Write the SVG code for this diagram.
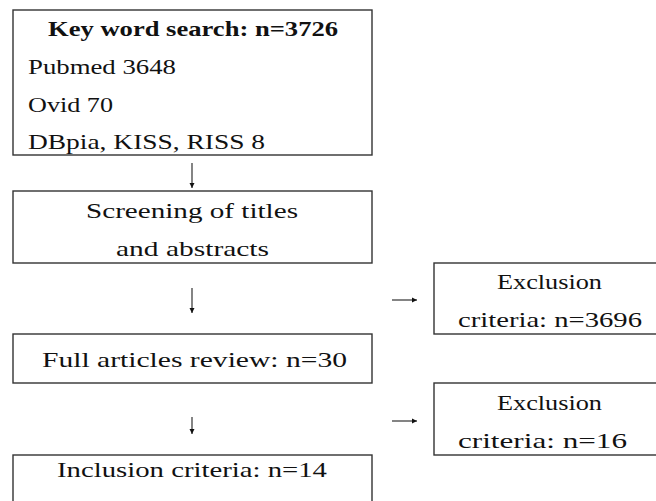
<svg xmlns="http://www.w3.org/2000/svg" width="656" height="501" viewBox="0 0 656 501">
<style>
.box{fill:#fff;stroke:#333;stroke-width:1.4}
.t{font-family:"Liberation Serif","DejaVu Serif",serif;font-size:22px;fill:#111}
.b{font-weight:bold}
.c{stroke:#333;stroke-width:1.2;fill:none;marker-end:url(#ah)}
</style>
<defs>
<marker id="ah" markerWidth="6" markerHeight="6" refX="5" refY="3" orient="auto" markerUnits="userSpaceOnUse">
<path d="M0,0.5 L5,3 L0,5.5 Z" fill="#111"/>
</marker>
</defs>
<rect width="656" height="501" fill="#fff"/>
<g id="n1">
<rect class="box" x="13" y="10" width="359" height="145"/>
<text class="t b" x="48" y="36" textLength="290" lengthAdjust="spacingAndGlyphs">Key word search: n=3726</text>
<text class="t" x="28" y="74" textLength="148" lengthAdjust="spacingAndGlyphs">Pubmed 3648</text>
<text class="t" x="28" y="112" textLength="85" lengthAdjust="spacingAndGlyphs">Ovid 70</text>
<text class="t" x="28" y="149" textLength="237" lengthAdjust="spacingAndGlyphs">DBpia, KISS, RISS 8</text>
</g>
<g id="n2">
<rect class="box" x="13" y="191" width="359" height="72"/>
<text class="t" x="86" y="218" textLength="212" lengthAdjust="spacingAndGlyphs">Screening of titles</text>
<text class="t" x="116" y="256" textLength="153" lengthAdjust="spacingAndGlyphs">and abstracts</text>
</g>
<g id="n3">
<rect class="box" x="434" y="263" width="240" height="71"/>
<text class="t" x="497" y="289" textLength="105" lengthAdjust="spacingAndGlyphs">Exclusion</text>
<text class="t" x="458" y="327" textLength="184" lengthAdjust="spacingAndGlyphs">criteria: n=3696</text>
</g>
<g id="n4">
<rect class="box" x="13" y="334" width="359" height="49"/>
<text class="t" x="42" y="367" textLength="305" lengthAdjust="spacingAndGlyphs">Full articles review: n=30</text>
</g>
<g id="n5">
<rect class="box" x="434" y="383" width="240" height="72"/>
<text class="t" x="497" y="410" textLength="105" lengthAdjust="spacingAndGlyphs">Exclusion</text>
<text class="t" x="458" y="448" textLength="169" lengthAdjust="spacingAndGlyphs">criteria: n=16</text>
</g>
<g id="n6">
<rect class="box" x="13" y="455" width="359" height="60"/>
<text class="t" x="57" y="477" textLength="270" lengthAdjust="spacingAndGlyphs">Inclusion criteria: n=14</text>
</g>
<g id="connectors">
<line class="c" x1="192" y1="163" x2="192" y2="188"/>
<line class="c" x1="192" y1="288" x2="192" y2="313"/>
<line class="c" x1="392" y1="300" x2="417" y2="300"/>
<line class="c" x1="192" y1="417" x2="192" y2="434"/>
<line class="c" x1="392" y1="421" x2="417" y2="421"/>
</g>
</svg>
